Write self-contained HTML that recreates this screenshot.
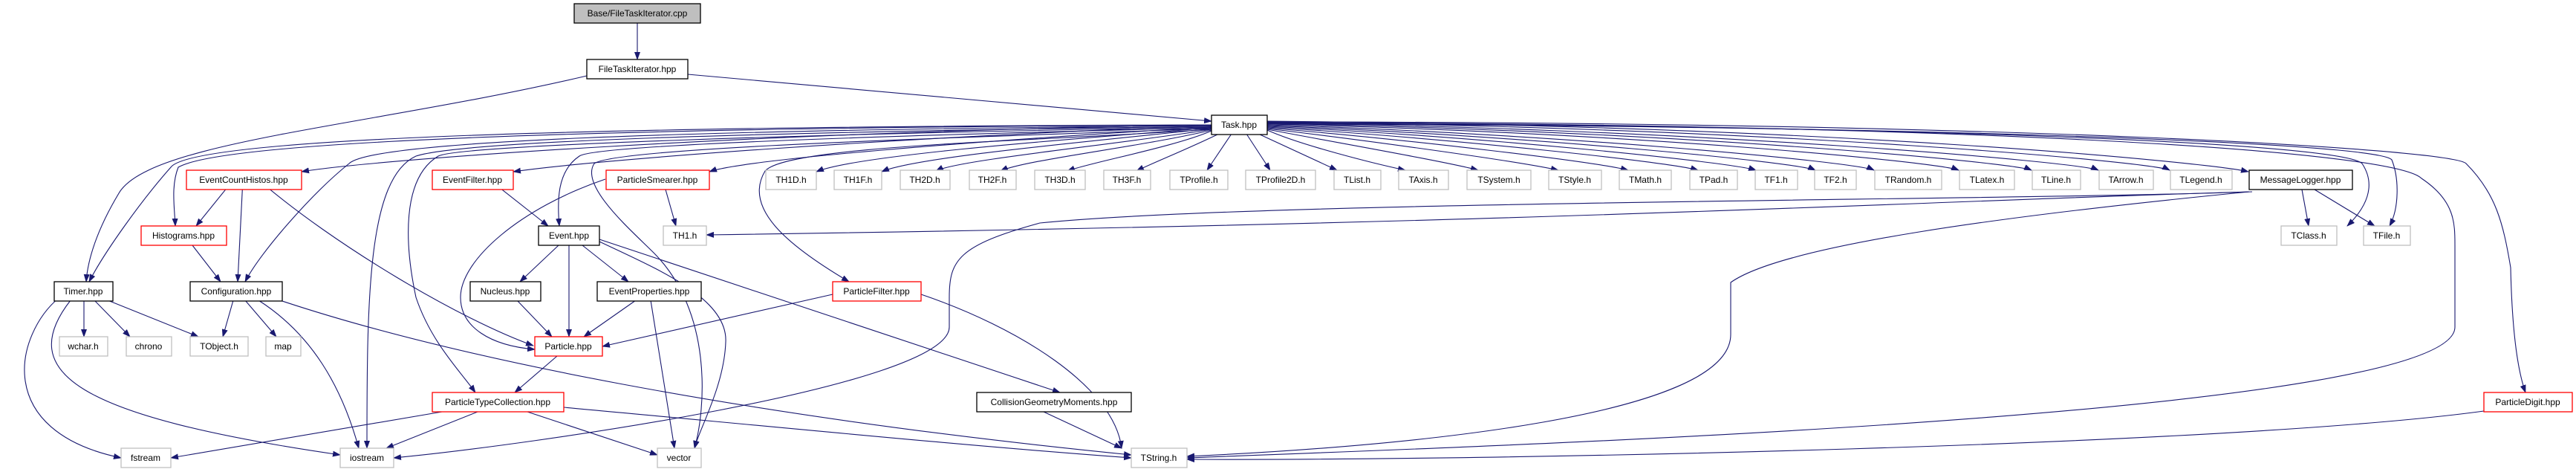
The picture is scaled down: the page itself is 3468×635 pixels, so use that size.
<!DOCTYPE html>
<html><head><meta charset="utf-8"><style>
html,body{margin:0;padding:0;background:#fff;}
svg{display:block;}
text{font-family:"Liberation Sans",Arial,sans-serif;font-size:12px;fill:#000;text-anchor:middle;}
.e{fill:none;stroke:#191970;stroke-width:1.1;}
.g{fill:#fff;stroke:#bfbfbf;stroke-width:1.3;}
.b{fill:#fff;stroke:#000;stroke-width:1.3;}
.r{fill:#fff;stroke:#ff0000;stroke-width:1.3;}
</style></head><body>
<svg width="3468" height="635" viewBox="0 0 3468 635" xmlns="http://www.w3.org/2000/svg">
<defs><marker id="a" markerWidth="11" markerHeight="8" refX="10" refY="4" orient="auto" markerUnits="userSpaceOnUse"><polygon points="0,0 11,4 0,8" fill="#191970"/></marker></defs>
<g class="e" marker-end="url(#a)">
<path d="M858 31 L858 80"/>
<path d="M926 100 L1631 163"/>
<path d="M790 102 C500 170 200 190 160 260 C130 310 118 350 116 379"/>
<!-- Task to far-left -->
<path d="M1631 168 C1000 178 500 215 406 231"/>
<path d="M1631 169 C1200 185 800 215 691 231"/>
<path d="M1631 171 C1300 190 1000 215 955 231"/>
<path d="M1631 172 C1400 190 1150 210 1099 231"/>
<path d="M1631 173 C1450 192 1230 212 1187 231"/>
<path d="M1631 174 C1500 195 1290 215 1260 230"/>
<path d="M1631 175 C1540 197 1380 215 1347 230"/>
<path d="M1631 176 C1580 198 1470 218 1437 230"/>
<path d="M1641 180 C1600 200 1550 220 1530 230"/>
<path d="M1658 180 L1625 229"/>
<path d="M1678 180 L1710 229"/>
<path d="M1694 180 L1800 229"/>
<path d="M1706 175 C1750 195 1850 220 1892 229"/>
<path d="M1706 174 C1800 192 1950 218 1990 229"/>
<path d="M1706 173 C1850 190 2050 218 2098 229"/>
<path d="M1706 172 C1900 188 2150 218 2192 229"/>
<path d="M1706 171 C1950 186 2250 218 2286 229"/>
<path d="M1706 170 C2000 184 2330 218 2364 229"/>
<path d="M1706 169 C2050 182 2420 218 2444 229"/>
<path d="M1706 168 C2100 180 2500 218 2523 229"/>
<path d="M1706 167 C2200 178 2610 218 2637 229"/>
<path d="M1706 166 C2250 176 2710 218 2735 229"/>
<path d="M1706 165 C2300 174 2800 218 2825 229"/>
<path d="M1706 164 C2400 172 2900 218 2921 229"/>
<path d="M1706 163 C2500 170 2980 220 3027 231"/>
<path d="M1706 166 C2500 168 3150 190 3180 220 C3200 250 3185 280 3160 304"/>
<path d="M1706 167 C2500 168 3200 190 3220 215 C3230 240 3230 280 3217 304"/>
<path d="M1706 165 C2600 166 3220 200 3260 240 C3305 270 3305 300 3305 330 L3305 440 C3305 560 2000 600 1598 616"/>
<path d="M1706 164 C2700 164 3300 200 3320 220 C3360 260 3370 300 3380 360 C3382 450 3390 500 3400 528"/>
<!-- Task to left lower -->
<path d="M1631 168 C800 172 300 190 240 225 C230 250 235 280 236 304"/>
<path d="M1631 168 C800 170 260 185 230 225 C190 270 140 340 120 379"/>
<path d="M1631 169 C900 175 500 190 470 220 C420 260 350 340 330 379"/>
<path d="M1631 170 C1000 178 620 190 560 210 C495 240 494 400 494 603"/>
<path d="M1631 171 C1100 180 620 195 590 210 C540 240 545 330 560 400 C580 460 620 500 640 528"/>
<path d="M1631 172 C1200 182 800 195 780 210 C750 230 750 270 753 304"/>
<path d="M1631 173 C1300 185 830 198 800 220 C780 250 850 310 880 340 C960 420 950 550 935 603"/>
<path d="M1631 174 C1400 190 1060 195 1030 230 C1000 280 1060 330 1143 379"/>
<!-- others -->
<path d="M315 241 L264 304"/>
<path d="M327 241 L320 379"/>
<path d="M347 241 C450 330 620 430 718 465"/>
<path d="M658 241 L738 304"/>
<path d="M892 241 L910 304"/>
<path d="M815 241 C700 280 620 350 620 400 C620 440 660 465 720 470"/>
<path d="M259 330 L297 379"/>
<path d="M752 330 L700 379"/>
<path d="M766 330 L766 453"/>
<path d="M784 330 L846 379"/>
<path d="M807 325 C880 360 980 400 977 460 C975 520 940 580 935 603"/>
<path d="M807 322 L1427 528"/>
<path d="M696 404 L743 453"/>
<path d="M856 404 L786 453"/>
<path d="M876 404 L908 603"/>
<path d="M1121 396 L811 466"/>
<path d="M1240 396 C1370 440 1500 520 1510 603"/>
<path d="M1405 554 L1510 603"/>
<path d="M750 479 L693 528"/>
<path d="M113 404 L113 453"/>
<path d="M127 404 L175 453"/>
<path d="M145 404 L267 453"/>
<path d="M80 400 C20 450 -10 580 163 616"/>
<path d="M95 404 C20 500 100 560 458 612"/>
<path d="M314 404 L300 453"/>
<path d="M330 404 L372 453"/>
<path d="M348 404 C420 450 460 520 483 603"/>
<path d="M365 400 C600 480 1000 560 1523 612"/>
<path d="M595 554 L230 616"/>
<path d="M643 554 L520 603"/>
<path d="M710 554 L885 612"/>
<path d="M759 548 C1000 570 1300 600 1523 616"/>
<path d="M3028 258 C2600 270 2100 300 951 316"/>
<path d="M3028 258 C2700 290 2400 330 2330 380 L2330 450 C2330 560 1900 600 1598 614"/>
<path d="M3032 258 C2700 270 1700 270 1400 300 C1290 330 1278 350 1278 400 L1278 440 C1278 520 700 600 530 616"/>
<path d="M3099 255 L3108 304"/>
<path d="M3116 255 L3197 304"/>
<path d="M3344 553 C3000 600 2000 620 1598 618"/>
</g>
<!-- nodes -->
<rect x="773" y="5" width="170" height="26" fill="#bfbfbf" stroke="#000" stroke-width="1.3"/><text x="858" y="22">Base/FileTaskIterator.cpp</text>
<rect class="b" x="790" y="80" width="136" height="26"/><text x="858" y="97">FileTaskIterator.hpp</text>
<rect class="b" x="1631" y="155" width="75" height="26"/><text x="1668" y="172">Task.hpp</text>
<g>
<rect class="r" x="251" y="229" width="155" height="26"/><text x="328" y="246">EventCountHistos.hpp</text>
<rect class="r" x="582" y="229" width="109" height="26"/><text x="636" y="246">EventFilter.hpp</text>
<rect class="r" x="816" y="229" width="139" height="26"/><text x="885" y="246">ParticleSmearer.hpp</text>
<rect class="g" x="1031" y="229" width="68" height="26"/><text x="1065" y="246">TH1D.h</text>
<rect class="g" x="1123" y="229" width="64" height="26"/><text x="1155" y="246">TH1F.h</text>
<rect class="g" x="1212" y="229" width="67" height="26"/><text x="1245" y="246">TH2D.h</text>
<rect class="g" x="1305" y="229" width="63" height="26"/><text x="1336" y="246">TH2F.h</text>
<rect class="g" x="1393" y="229" width="68" height="26"/><text x="1427" y="246">TH3D.h</text>
<rect class="g" x="1486" y="229" width="63" height="26"/><text x="1517" y="246">TH3F.h</text>
<rect class="g" x="1575" y="229" width="78" height="26"/><text x="1614" y="246">TProfile.h</text>
<rect class="g" x="1677" y="229" width="94" height="26"/><text x="1724" y="246">TProfile2D.h</text>
<rect class="g" x="1796" y="229" width="63" height="26"/><text x="1827" y="246">TList.h</text>
<rect class="g" x="1883" y="229" width="67" height="26"/><text x="1916" y="246">TAxis.h</text>
<rect class="g" x="1975" y="229" width="86" height="26"/><text x="2018" y="246">TSystem.h</text>
<rect class="g" x="2085" y="229" width="71" height="26"/><text x="2120" y="246">TStyle.h</text>
<rect class="g" x="2180" y="229" width="70" height="26"/><text x="2215" y="246">TMath.h</text>
<rect class="g" x="2275" y="229" width="64" height="26"/><text x="2307" y="246">TPad.h</text>
<rect class="g" x="2363" y="229" width="57" height="26"/><text x="2391" y="246">TF1.h</text>
<rect class="g" x="2443" y="229" width="56" height="26"/><text x="2471" y="246">TF2.h</text>
<rect class="g" x="2524" y="229" width="90" height="26"/><text x="2569" y="246">TRandom.h</text>
<rect class="g" x="2638" y="229" width="74" height="26"/><text x="2675" y="246">TLatex.h</text>
<rect class="g" x="2736" y="229" width="65" height="26"/><text x="2768" y="246">TLine.h</text>
<rect class="g" x="2826" y="229" width="73" height="26"/><text x="2862" y="246">TArrow.h</text>
<rect class="g" x="2922" y="229" width="83" height="26"/><text x="2963" y="246">TLegend.h</text>
<rect class="b" x="3028" y="229" width="139" height="26"/><text x="3097" y="246">MessageLogger.hpp</text>
<rect class="r" x="190" y="304" width="115" height="26"/><text x="247" y="321">Histograms.hpp</text>
<rect class="b" x="725" y="304" width="82" height="26"/><text x="766" y="321">Event.hpp</text>
<rect class="g" x="893" y="304" width="58" height="26"/><text x="922" y="321">TH1.h</text>
<rect class="g" x="3071" y="304" width="75" height="26"/><text x="3108" y="321">TClass.h</text>
<rect class="g" x="3182" y="304" width="63" height="26"/><text x="3213" y="321">TFile.h</text>
<rect class="b" x="73" y="379" width="79" height="26"/><text x="112" y="396">Timer.hpp</text>
<rect class="b" x="256" y="379" width="124" height="26"/><text x="318" y="396">Configuration.hpp</text>
<rect class="b" x="633" y="379" width="95" height="26"/><text x="680" y="396">Nucleus.hpp</text>
<rect class="b" x="804" y="379" width="140" height="26"/><text x="874" y="396">EventProperties.hpp</text>
<rect class="r" x="1121" y="379" width="119" height="26"/><text x="1180" y="396">ParticleFilter.hpp</text>
<rect class="g" x="80" y="453" width="65" height="26"/><text x="112" y="470">wchar.h</text>
<rect class="g" x="170" y="453" width="61" height="26"/><text x="200" y="470">chrono</text>
<rect class="g" x="256" y="453" width="78" height="26"/><text x="295" y="470">TObject.h</text>
<rect class="g" x="358" y="453" width="47" height="26"/><text x="381" y="470">map</text>
<rect class="r" x="720" y="453" width="91" height="26"/><text x="765" y="470">Particle.hpp</text>
<rect class="r" x="582" y="528" width="177" height="26"/><text x="670" y="545">ParticleTypeCollection.hpp</text>
<rect class="b" x="1315" y="528" width="208" height="26"/><text x="1419" y="545">CollisionGeometryMoments.hpp</text>
<rect class="r" x="3344" y="528" width="119" height="26"/><text x="3403" y="545">ParticleDigit.hpp</text>
<rect class="g" x="163" y="603" width="67" height="26"/><text x="196" y="620">fstream</text>
<rect class="g" x="458" y="603" width="72" height="26"/><text x="494" y="620">iostream</text>
<rect class="g" x="885" y="603" width="59" height="26"/><text x="914" y="620">vector</text>
<rect class="g" x="1523" y="603" width="75" height="26"/><text x="1560" y="620">TString.h</text>
</g>
</svg>
</body></html>
